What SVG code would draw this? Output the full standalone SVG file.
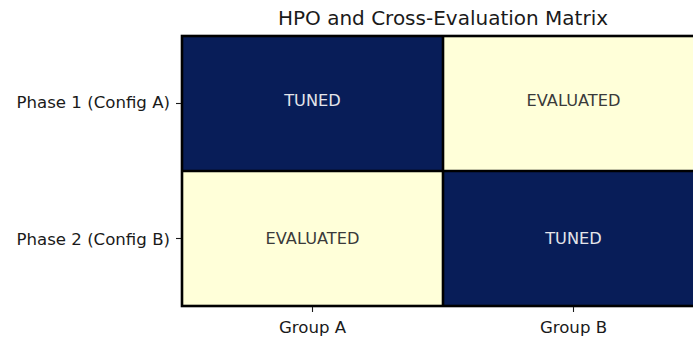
<svg xmlns="http://www.w3.org/2000/svg" width="693" height="338" viewBox="0 0 693 338">
  <style>
    text { font-family: "DejaVu Sans", "Liberation Sans", sans-serif; }
    .title { font-size: 20px; fill: #1a1a1a; text-anchor: middle; }
    .tick { font-size: 16.6px; fill: #1a1a1a; }
    .ylab { text-anchor: end; }
    .xlab { text-anchor: middle; }
    .ann { font-size: 16.2px; text-anchor: middle; }
    .dark { fill: #081d58; }
    .light { fill: #ffffd9; }
    .on-dark { fill: #e4e4ea; }
    .on-light { fill: #3a3a3a; }
    .grid { stroke: #000; stroke-width: 2.6; fill: none; }
    .tickmark { stroke: #1a1a1a; stroke-width: 1.1; }
  </style>

  <rect width="693" height="338" fill="#ffffff"/>

  <text class="title" x="443" y="25">HPO and Cross-Evaluation Matrix</text>

  <!-- matrix cells -->
  <g id="cell-p1-a">
    <rect class="dark" x="182" y="36" width="261" height="135"/>
    <text class="ann on-dark" x="312.5" y="106">TUNED</text>
  </g>
  <g id="cell-p1-b">
    <rect class="light" x="443" y="36" width="261" height="135"/>
    <text class="ann on-light" x="573.5" y="106">EVALUATED</text>
  </g>
  <g id="cell-p2-a">
    <rect class="light" x="182" y="171" width="261" height="135"/>
    <text class="ann on-light" x="312.5" y="244">EVALUATED</text>
  </g>
  <g id="cell-p2-b">
    <rect class="dark" x="443" y="171" width="261" height="135"/>
    <text class="ann on-dark" x="573.5" y="244">TUNED</text>
  </g>

  <!-- cell borders -->
  <g id="grid">
    <rect class="grid" x="182" y="36" width="522" height="270"/>
    <line class="grid" x1="443" y1="36" x2="443" y2="306"/>
    <line class="grid" x1="182" y1="171" x2="704" y2="171"/>
  </g>

  <!-- axis ticks and labels -->
  <g id="y-axis">
    <line class="tickmark" x1="176" y1="103.5" x2="181" y2="103.5"/>
    <line class="tickmark" x1="176" y1="238.5" x2="181" y2="238.5"/>
    <text class="tick ylab" x="170" y="107.5">Phase 1 (Config A)</text>
    <text class="tick ylab" x="170" y="244.5">Phase 2 (Config B)</text>
  </g>
  <g id="x-axis">
    <line class="tickmark" x1="312.5" y1="307" x2="312.5" y2="312"/>
    <line class="tickmark" x1="573.5" y1="307" x2="573.5" y2="312"/>
    <text class="tick xlab" x="312.5" y="333">Group A</text>
    <text class="tick xlab" x="573.5" y="333">Group B</text>
  </g>
</svg>
